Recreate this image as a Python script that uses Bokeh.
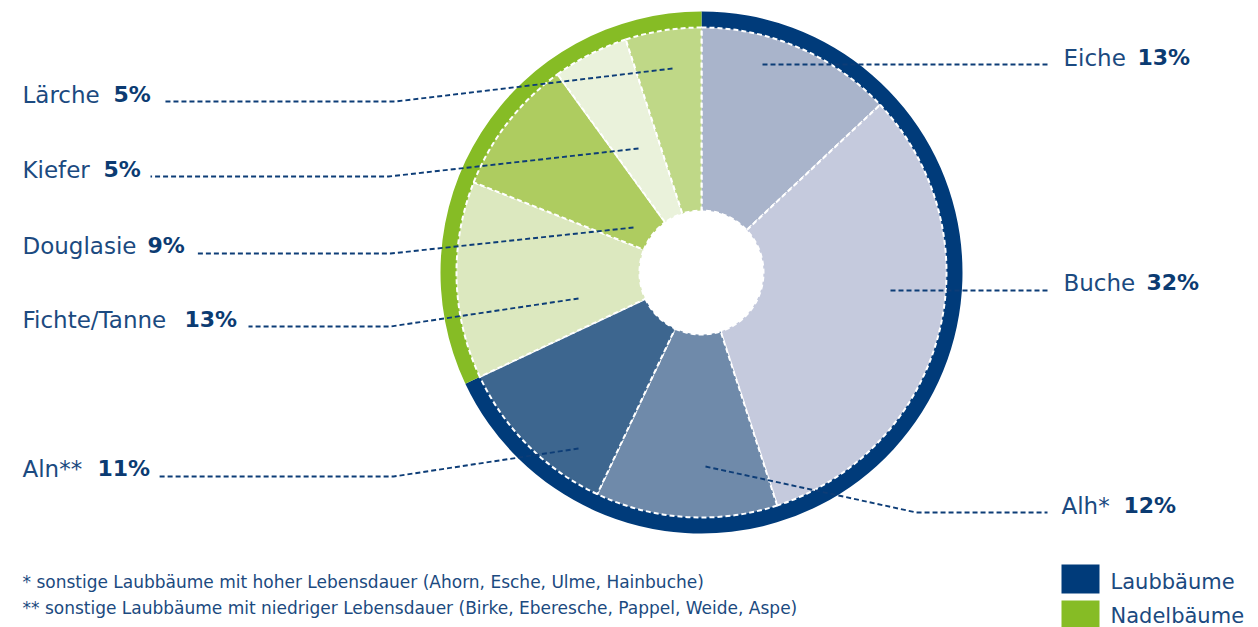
import numpy as np
from bokeh.plotting import figure
from bokeh.models import Range1d
from bokeh.embed import file_html
from bokeh.resources import INLINE
from bokeh.core.properties import value

# ---------------- data ----------------
species = ["Eiche", "Buche", "Alh*", "Aln**", "Fichte/Tanne", "Douglasie", "Kiefer", "Lärche"]
shares = [13, 32, 12, 11, 13, 9, 5, 5]
groups = ["Laubbäume", "Laubbäume", "Laubbäume", "Laubbäume",
          "Nadelbäume", "Nadelbäume", "Nadelbäume", "Nadelbäume"]
slice_colors = ["#a9b4cb", "#c5cadd", "#6f8aaa", "#3d668f",
                "#dce8bf", "#aecc60", "#eaf2db", "#bfd887"]
group_names = ["Laubbäume", "Nadelbäume"]
group_colors = ["#003b7a", "#86bc25"]
footnotes = ["*  sonstige Laubbäume mit hoher Lebensdauer (Ahorn, Esche, Ulme, Hainbuche)",
             "**  sonstige Laubbäume mit niedriger Lebensdauer (Birke, Eberesche, Pappel, Weide, Aspe)"]

# ---------------- layout ----------------
W, H = 1258, 627
def Y(py):
    return H - py

CX, CY = 701, Y(272)
R_HOLE, R_PIE, R_RING = 62, 245, 261

FONT = value("DejaVu Sans")
TEXT_BLUE = "#1b4a80"
BOLD_BLUE = "#0b3b72"
LINE_BLUE = "#0d3d77"

# leader layout per species (page pixels): polyline points, name x, percentage x, text centre y
leader = {
    "Eiche":        dict(pts=[(762, 64), (1047, 64)], nx=1063, px=1137, ty=57),
    "Buche":        dict(pts=[(890, 290), (1047, 290)], nx=1063, px=1146, ty=282),
    "Alh*":         dict(pts=[(705, 466), (916, 512), (1047, 512)], nx=1061, px=1123, ty=505),
    "Aln**":        dict(pts=[(578, 448), (393, 476), (158, 476)], nx=22, px=97, ty=468),
    "Fichte/Tanne": dict(pts=[(578, 298), (390, 326), (248, 326)], nx=22, px=184, ty=319),
    "Douglasie":    dict(pts=[(633, 227), (390, 253), (195, 253)], nx=22, px=147, ty=245),
    "Kiefer":       dict(pts=[(638, 148), (388, 176), (150, 176)], nx=22, px=103, ty=169),
    "Lärche":       dict(pts=[(672, 68), (395, 101), (163, 101)], nx=22, px=113, ty=94),
}

p = figure(width=W, height=H, output_backend="svg", toolbar_location=None,
           x_range=Range1d(0, W), y_range=Range1d(0, H),
           min_border=0, outline_line_color=None)
p.axis.visible = False
p.grid.visible = False
p.background_fill_color = "white"
p.border_fill_color = "white"

# ---- outer ring by group ----
vals = np.array(shares, dtype=float)
tot = vals.sum()
gtot = [vals[[g == n for g in groups]].sum() for n in group_names]
gcum = np.concatenate([[0], np.cumsum(gtot)]) / tot
p.annular_wedge(x=CX, y=CY, inner_radius=R_PIE - 2, outer_radius=R_RING,
                start_angle=list(np.pi / 2 - 2 * np.pi * gcum[:-1]),
                end_angle=list(np.pi / 2 - 2 * np.pi * gcum[1:]),
                direction="clock", fill_color=group_colors, line_color=None)

# ---- slices ----
cum = np.concatenate([[0], np.cumsum(vals)]) / tot
p.annular_wedge(x=CX, y=CY, inner_radius=R_HOLE, outer_radius=R_PIE,
                start_angle=list(np.pi / 2 - 2 * np.pi * cum[:-1]),
                end_angle=list(np.pi / 2 - 2 * np.pi * cum[1:]),
                direction="clock", fill_color=slice_colors,
                line_color="white", line_width=2, line_dash="5 3")

# ---- leader lines ----
xs = [[pt[0] for pt in leader[s]["pts"]] for s in species]
ys = [[Y(pt[1]) for pt in leader[s]["pts"]] for s in species]
p.multi_line(xs=xs, ys=ys, line_color=LINE_BLUE, line_width=1.9, line_dash="5 3")

# ---- labels ----
name_x = [leader[s]["nx"] for s in species]
pct_x = [leader[s]["px"] for s in species]
mid_y = [Y(leader[s]["ty"]) for s in species]
p.text(x=name_x, y=mid_y, text=species, text_font=FONT,
       text_font_size="23px", text_color=TEXT_BLUE, text_baseline="middle")
p.text(x=pct_x, y=mid_y, text=[f"{v}%" for v in shares], text_font=FONT,
       text_font_size="22px", text_font_style="bold", text_color=BOLD_BLUE,
       text_baseline="middle")

# ---- footnotes ----
p.text(x=[22, 22], y=[Y(581), Y(607)], text=footnotes, text_font=FONT,
       text_font_size="17px", text_color=TEXT_BLUE, text_baseline="middle")

# ---- legend ----
p.quad(left=[1061, 1061], right=[1099, 1099], top=[Y(564), Y(600)],
       bottom=[Y(593), Y(630)], fill_color=group_colors, line_color=None)
p.text(x=[1110, 1110], y=[Y(581), Y(615)], text=group_names, text_font=FONT,
       text_font_size="21px", text_color=TEXT_BLUE, text_baseline="middle")

open("out.html", "w").write(file_html(p, INLINE))
